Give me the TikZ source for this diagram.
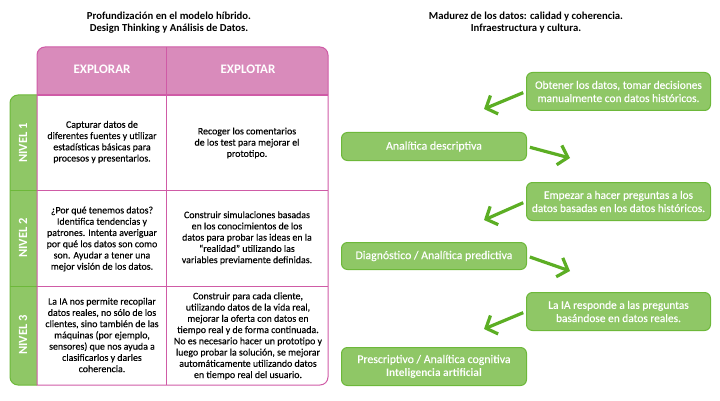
\documentclass[tikz,border=0pt]{standalone}
\usepackage{fontspec}
\setmainfont{Carlito}
\newfontfamily\semifont[FakeBold=0.25]{Carlito}
\usetikzlibrary{arrows.meta}
\definecolor{pinkfill}{HTML}{D98BBB}
\definecolor{pinkline}{HTML}{CF5BA6}
\definecolor{greenfill}{HTML}{8FC766}
\definecolor{greenline}{HTML}{6DB83A}
\definecolor{arrowgreen}{HTML}{5CAE24}
\tikzset{
  x=1pt,y=-1pt,
  heading/.style={font=\fontsize{10.7}{12}\selectfont\bfseries,align=center,text=black},
  celltext/.style={font=\semifont\fontsize{9.9}{11.25}\selectfont,align=center,text=black},
  headtext/.style={font=\fontsize{13}{14}\selectfont\bfseries,text=white},
  niveltext/.style={font=\fontsize{12.5}{14}\selectfont\bfseries,text=white,rotate=90},
  gbox/.style={draw=greenline,fill=greenfill,line width=1pt,rounded corners=6pt,inner sep=0pt,anchor=north west,align=center,text=white,font=\semifont\fontsize{11.4}{13.2}\selectfont},
  lbox/.style={gbox,font=\semifont\fontsize{11.8}{13.2}\selectfont},
  flow/.style={draw=arrowgreen,line width=3.2pt,-{Straight Barb[length=9pt,width=20pt,line width=3.2pt]}},
}
\begin{document}
\begin{tikzpicture}
\useasboundingbox (0,0) rectangle (720,401);
% strip
\draw[greenline,fill=greenfill,line width=1pt,rounded corners=8pt] (37,95) -- (10,95) -- (10,385) -- (37,385);
\draw[greenline,line width=1pt] (10,190) -- (37,190) (10,286) -- (37,286);
% header
\fill[pinkfill,rounded corners=8pt] (37,95) -- (37,47) -- (328,47) -- (328,95);
% table lines
\draw[pinkline,line width=1pt,rounded corners=8pt] (37,385) -- (37,47) -- (328,47) -- (328,385) -- (37,385);
\draw[pinkline,line width=1pt] (166,47) -- (166,385) (37,190) -- (328,190) (37,286) -- (328,286);
\draw[pinkline,line width=1.5pt] (37,95) -- (328,95);
% headings
\node[heading] (h1) at (169,22.7) {Profundización en el modelo híbrido.\\Design Thinking y Análisis de Datos.};
\node[heading] (h2) at (526,22.5) {Madurez de los datos: calidad y coherencia.\\Infraestructura y cultura.};
\node[headtext] (ex1) at (102,69) {EXPLORAR};
\node[headtext] (ex2) at (248,69) {EXPLOTAR};
\node[niveltext] (n1) at (23,143) {NIVEL 1};
\node[niveltext] (n2) at (23,238) {NIVEL 2};
\node[niveltext] (n3) at (23,335) {NIVEL 3};
\node[celltext] (c11) at (102,142) {Capturar datos de\\diferentes fuentes y utilizar\\estadísticas básicas para\\procesos y presentarlos.};
\node[celltext] (c12) at (247,143) {Recoger los comentarios\\de los test para mejorar el\\prototipo.};
\node[celltext] (c21) at (102,239) {¿Por qué tenemos datos?\\Identifica tendencias y\\patrones. Intenta averiguar\\por qué los datos son como\\son. Ayudar a tener una\\mejor visión de los datos.};
\node[celltext] (c22) at (247,238) {Construir simulaciones basadas\\en los conocimientos de los\\datos para probar las ideas en la\\“realidad” utilizando las\\variables previamente definidas.};
\node[celltext] (c31) at (102,335) {La IA nos permite recopilar\\datos reales, no sólo de los\\clientes, sino también de las\\máquinas (por ejemplo,\\sensores) que nos ayuda a\\clasificarlos y darles\\coherencia.};
\node[celltext] (c32) at (248,336) {Construir para cada cliente,\\utilizando datos de la vida real,\\mejorar la oferta con datos en\\tiempo real y de forma continuada.\\No es necesario hacer un prototipo y\\luego probar la solución, se mejorar\\automáticamente utilizando datos\\en tiempo real del usuario.};
% right boxes
\node[gbox,minimum width=184pt,minimum height=38pt] (r1) at (526,72) {Obtener los datos, tomar decisiones\\manualmente con datos históricos.};
\node[lbox,minimum width=185pt,minimum height=28pt] (l1) at (341,132) {Analítica descriptiva};
\node[gbox,minimum width=184pt,minimum height=38pt] (r2) at (526,182) {Empezar a hacer preguntas a los\\datos basadas en los datos históricos.};
\node[lbox,minimum width=185pt,minimum height=27pt] (l2) at (341,242) {Diagnóstico / Analítica predictiva};
\node[gbox,minimum width=184pt,minimum height=38pt] (r3) at (526,292) {La IA responde a las preguntas\\basándose en datos reales.};
\node[lbox,minimum width=185pt,minimum height=38pt] (l3) at (341,347) {Prescriptivo / Analítica cognitiva\\{\rmfamily\bfseries\fontsize{11.4}{13.2}\selectfont Inteligencia artificial}};
% free ends
\coordinate (a1) at (484,109);
\coordinate (a2) at (570,158);
\coordinate (a3) at (484,220);
\coordinate (a4) at (570,271);
\coordinate (a5) at (484,329);
\draw[flow,shorten <=3pt] (r1.west) -- (a1);
\draw[flow,shorten <=3pt] (l1.east) -- (a2);
\draw[flow,shorten <=3pt] (r2.west) -- (a3);
\draw[flow,shorten <=3pt] (l2.east) -- (a4);
\draw[flow,shorten <=3pt] (r3.west) -- (a5);
\end{tikzpicture}
\end{document}
